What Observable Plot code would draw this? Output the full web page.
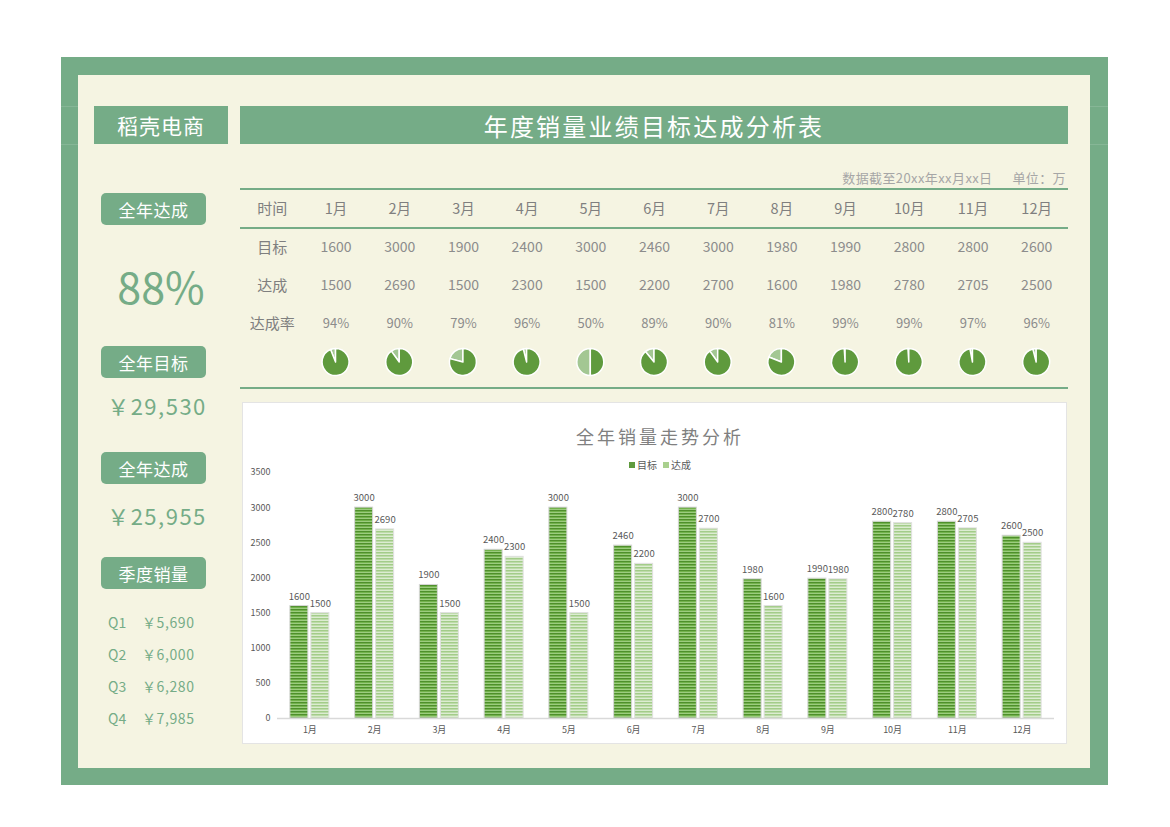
<!DOCTYPE html>
<html><head><meta charset="utf-8">
<script src="https://cdn.jsdelivr.net/npm/d3@7"></script>
<script src="https://cdn.jsdelivr.net/npm/@observablehq/plot@0.6"></script>
<style>
body{margin:0;background:#fff;font-family:"Noto Sans CJK SC","Noto Sans",sans-serif;}
#page{position:relative;width:1170px;height:827px;overflow:hidden;}
.abs{position:absolute;}
.frame{left:61px;top:57px;width:1047px;height:728px;background:#75AC87;}
.fline{left:61px;width:1047px;height:1px;background:rgba(255,255,255,0.13);}
.cream{left:78px;top:75px;width:1012px;height:693px;background:#F5F4E2;}
.banner{background:#75AC87;color:#fff;display:flex;align-items:center;justify-content:center;}
.tag{background:#75AC87;color:#fff;border-radius:5px;display:flex;align-items:center;justify-content:center;font-size:17px;width:105px;height:32px;left:101px;letter-spacing:0.5px;}
.big{color:#75AC87;text-align:center;width:134px;line-height:1;}
.hr{background:#75AC87;height:2px;left:240px;width:828px;}
.q{color:#75AC87;font-size:14px;line-height:1;}
</style></head><body><div id="page">
<div class="abs frame"></div>
<div class="abs fline" style="top:106px"></div>
<div class="abs fline" style="top:144px"></div>
<div class="abs cream"></div>
<div class="abs banner" style="left:94px;top:106px;width:134px;height:38px;font-size:21px;letter-spacing:1px;">稻壳电商</div>
<div class="abs banner" style="left:240px;top:106px;width:828px;height:38px;font-size:24px;letter-spacing:2.2px;">年度销量业绩目标达成分析表</div>
<div class="abs" style="left:700px;top:169px;width:366px;text-align:right;font-size:13px;color:#A6A6A6;line-height:17px;letter-spacing:0.4px;">数据截至20xx年xx月xx日&nbsp;&nbsp;&nbsp;&nbsp;&nbsp;&nbsp;单位：万</div>
<div id="left"></div>
<div id="table" class="abs" style="left:240px;top:189px;"></div>
<div class="abs hr" style="top:188px"></div>
<div class="abs hr" style="top:227px"></div>
<div class="abs hr" style="top:387px"></div>
<div id="chart" class="abs" style="left:242px;top:402px;background:#fff;"></div>
<div class="abs" style="left:242px;top:402px;width:825px;height:342px;box-sizing:border-box;border:1px solid #E4E4E4;"></div>
<div class="abs" style="left:460px;top:424px;width:400px;text-align:center;font-size:18px;letter-spacing:3px;color:#808080;line-height:24px;">全年销量走势分析</div>
<div id="legend" class="abs" style="left:560px;top:458px;width:200px;display:flex;justify-content:center;gap:6px;font-size:10px;color:#595959;line-height:14px;"></div>
</div>
<script>
// ---- data ----
const months = ["1月","2月","3月","4月","5月","6月","7月","8月","9月","10月","11月","12月"];
const target = [1600,3000,1900,2400,3000,2460,3000,1980,1990,2800,2800,2600];
const actual = [1500,2690,1500,2300,1500,2200,2700,1600,1980,2780,2705,2500];
const rates = [94,90,79,96,50,89,90,81,99,99,97,96];
const seriesNames = ["目标","达成"];
const rowLabels = ["时间","目标","达成","达成率"];
const yTicks = [0,500,1000,1500,2000,2500,3000,3500];
const quarters = ["Q1","Q2","Q3","Q4"];
const quarterSales = [5690,6000,6280,7985];
const yearRate = 88;
const yearTarget = 29530;
const yearActual = 25955;
const kpiTags = ["全年达成","全年目标","全年达成","季度销量"];

const GREEN = "#75AC87";
const DARK = "#5F9A3D", LIGHT = "#A3C793";
const FONT = '"Noto Sans CJK SC","Noto Sans",sans-serif';
const fmt = d3.format(",");

// ---- left panel ----
const left = document.getElementById("left");
const tagTops = [193,346,452,557];
kpiTags.forEach((t,i)=>{
  const d = document.createElement("div");
  d.className = "abs tag"; d.style.top = tagTops[i]+"px"; d.textContent = t;
  left.appendChild(d);
});
function big(text, top, size, cx, ls){
  const d = document.createElement("div");
  d.className = "abs big"; d.style.top = top+"px"; d.style.left = (cx-67)+"px";
  d.style.fontSize = size+"px"; d.style.letterSpacing = ls+"px"; d.textContent = text;
  left.appendChild(d);
}
big(yearRate+"%", 264, 43, 161, 0);
big("￥"+fmt(yearTarget), 394, 22, 157, 1.5);
big("￥"+fmt(yearActual), 504, 22, 157, 1.5);
const qTops = [615,647,679,711];
quarters.forEach((q,i)=>{
  const a = document.createElement("div");
  a.className="abs q"; a.style.left="108px"; a.style.top=qTops[i]+"px"; a.textContent=q;
  const b = document.createElement("div");
  b.className="abs q"; b.style.left="142px"; b.style.top=qTops[i]+"px"; b.style.letterSpacing="0.6px"; b.textContent="￥"+fmt(quarterSales[i]);
  left.appendChild(a); left.appendChild(b);
});

// ---- table ----
const cols = [rowLabels[0], ...months];
const rowKeys = [...rowLabels, "饼图"];
const labelCells = rowLabels.map(r=>({col:cols[0], row:r, text:r}));
const headCells = months.map(m=>({col:m, row:rowLabels[0], text:m}));
const tgtCells = months.map((m,i)=>({col:m, row:rowLabels[1], text:String(target[i])}));
const actCells = months.map((m,i)=>({col:m, row:rowLabels[2], text:String(actual[i])}));
const rateCells = months.map((m,i)=>({col:m, row:rowLabels[3], text:rates[i]+"%"}));

function pies(index, scales){
  const g = d3.create("svg:g");
  const arc = d3.arc().innerRadius(0).outerRadius(13.5);
  months.forEach((m,i)=>{
    const cx = scales.x(m), cy = scales.y("饼图");
    const a = rates[i]/100*2*Math.PI;
    const gg = g.append("g").attr("transform",`translate(${cx},${cy})`);
    gg.append("path").attr("d", arc({startAngle:a, endAngle:2*Math.PI})).attr("fill",LIGHT).attr("stroke","#fff").attr("stroke-width",1.5).attr("stroke-linejoin","round");
    gg.append("path").attr("d", arc({startAngle:0, endAngle:a})).attr("fill",DARK).attr("stroke","#fff").attr("stroke-width",1.5).attr("stroke-linejoin","round");
  });
  return g.node();
}

const table = Plot.plot({
  width: 828, height: 200,
  marginLeft: 0, marginRight: 0, marginTop: 20, marginBottom: 27,
  x: {type:"point", domain: cols, padding: 0.5, round: false, axis: null},
  y: {type:"point", domain: rowKeys, padding: 0, round: false, axis: null},
  style: {background:"transparent", fontFamily: FONT, overflow:"visible"},
  marks: [
    Plot.text(labelCells, {x:"col", y:"row", text:"text", fontSize:15, fill:"#7F7F7F"}),
    Plot.text(headCells, {x:"col", y:"row", text:"text", fontSize:14.5, fill:"#7F7F7F"}),
    Plot.text(tgtCells, {x:"col", y:"row", text:"text", fontSize:14, fill:"#8C8C8C"}),
    Plot.text(actCells, {x:"col", y:"row", text:"text", fontSize:14, fill:"#8C8C8C"}),
    Plot.text(rateCells, {x:"col", y:"row", text:"text", fontSize:13, fill:"#8C8C8C"}),
    pies
  ]
});
document.getElementById("table").appendChild(table);

// ---- bar chart ----
const tgtData = months.map((m,i)=>({month:m, series:seriesNames[0], value:target[i]}));
const actData = months.map((m,i)=>({month:m, series:seriesNames[1], value:actual[i]}));

function defs(){
  const ns = "http://www.w3.org/2000/svg";
  const d = document.createElementNS(ns, "defs");
  d.innerHTML = `
  <pattern id="pDark" patternUnits="userSpaceOnUse" width="6" height="3">
    <rect width="6" height="3" fill="#9CCC7F"/>
    <rect width="6" height="1" y="0" fill="#4F8F2C"/>
    <rect width="6" height="1" y="1" fill="#72B24C"/>
  </pattern>
  <pattern id="pLight" patternUnits="userSpaceOnUse" width="6" height="3">
    <rect width="6" height="3" fill="#DCECD1"/>
    <rect width="6" height="1" y="0" fill="#A3CC89"/>
    <rect width="6" height="1" y="1" fill="#BDDBA9"/>
  </pattern>`;
  return d;
}

const chart = Plot.plot({
  width: 825, height: 342,
  marginLeft: 35, marginRight: 13, marginTop: 70, marginBottom: 26,
  x: {type:"band", domain: months, padding: 0, round: false, tickSize: 0, tickPadding: 8, label: null},
  y: {domain: [0, 3500], ticks: yTicks, tickFormat: d => String(d), tickSize: 0, tickPadding: 7, label: null},
  style: {background:"transparent", fontFamily: FONT, fontSize:"9px", color:"#595959", overflow:"visible"},
  marks: [
    defs,
    Plot.barY(tgtData, {x:"month", y:"value", fill:"url(#pDark)", stroke:"#D6D6D6", strokeWidth:1, insetLeft:12.875, insetRight:33.875}),
    Plot.barY(actData, {x:"month", y:"value", fill:"url(#pLight)", stroke:"#E0E0E0", strokeWidth:1, insetLeft:33.875, insetRight:12.875}),
    Plot.ruleY([0], {stroke:"#D9D9D9", strokeWidth:1.5}),
    Plot.text(tgtData, {x:"month", y:"value", text: d=>String(d.value), dx:-10.5, dy:-6.5, lineAnchor:"bottom", fill:"#595959", fontSize:9.5}),
    Plot.text(actData, {x:"month", y:"value", text: d=>String(d.value), dx:10.5, dy:-6.5, lineAnchor:"bottom", fill:"#595959", fontSize:9.5})
  ]
});
document.getElementById("chart").appendChild(chart);

// ---- legend ----
const legend = document.getElementById("legend");
[DARK, "#A9D08E"].forEach((c,i)=>{
  const s = document.createElement("span");
  s.style.display="flex"; s.style.alignItems="center"; s.style.gap="2px";
  s.innerHTML = `<span style="display:inline-block;width:6px;height:6px;background:${c}"></span>${seriesNames[i]}`;
  legend.appendChild(s);
});
</script>
</body></html>
